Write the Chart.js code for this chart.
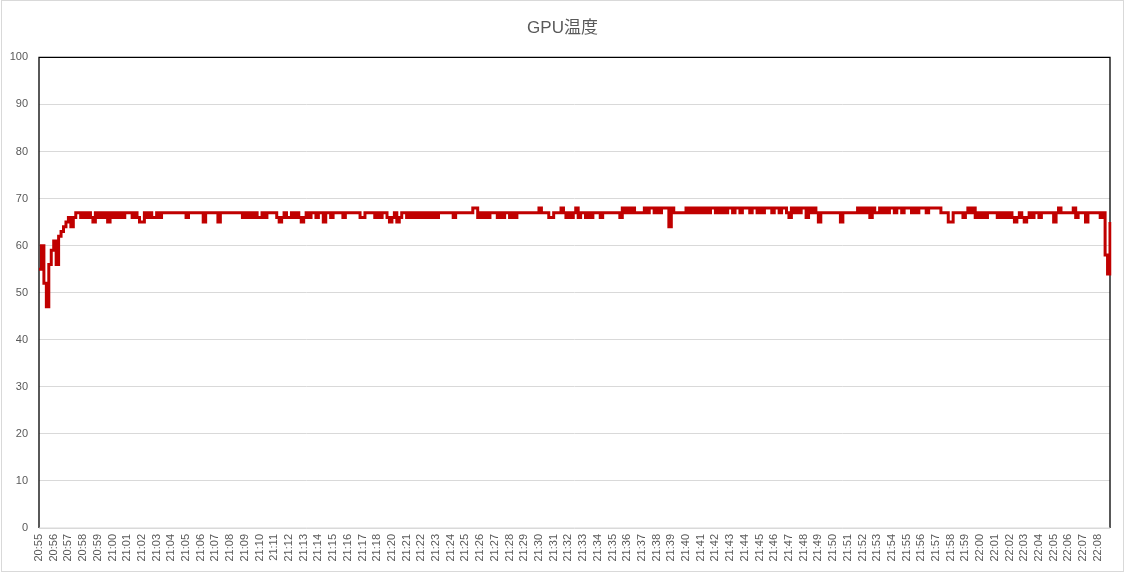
<!DOCTYPE html>
<html>
<head>
<meta charset="utf-8">
<script src="https://cdn.jsdelivr.net/npm/chart.js@4"></script>
<style>
  html, body { margin: 0; padding: 0; background: #fff; }
  #frame { position: absolute; left: 1px; top: 0px; width: 1121px; height: 570px; border: 1px solid #d9d9d9; background: #fff; }
  canvas { display: block; }
</style>
</head>
<body>
<div id="frame"><canvas id="c"></canvas></div>
<script>
// Minute tick labels (21:19 is absent in the source chart)
const timeLabels = [
  '20:55','20:56','20:57','20:58','20:59','21:00','21:01','21:02','21:03','21:04',
  '21:05','21:06','21:07','21:08','21:09','21:10','21:11','21:12','21:13','21:14',
  '21:15','21:16','21:17','21:18','21:20','21:21','21:22','21:23','21:24','21:25',
  '21:26','21:27','21:28','21:29','21:30','21:31','21:32','21:33','21:34','21:35',
  '21:36','21:37','21:38','21:39','21:40','21:41','21:42','21:43','21:44','21:45',
  '21:46','21:47','21:48','21:49','21:50','21:51','21:52','21:53','21:54','21:55',
  '21:56','21:57','21:58','21:59','22:00','22:01','22:02','22:03','22:04','22:05',
  '22:06','22:07','22:08'
];
const samplesPerLabel = 6;

// GPU temperature readings (6 samples per label interval)
const gpuTemp = [
  55,60,52,47,56,59,  61,56,62,63,64,65,  66,64,66,67,67,66,  67,66,67,66,65,67,
  66,67,66,67,65,67,  66,67,66,67,66,67,  67,67,66,67,66,65,  65,67,66,67,66,66,
  67,66,67,67,67,67,  67,67,67,67,67,67,  66,67,67,67,67,67,  67,65,67,67,67,67,
  67,65,67,67,67,67,  67,67,67,67,67,66,  67,66,67,66,67,66,  66,67,66,67,67,67,
  67,66,65,66,67,66,  66,67,66,67,66,65,  66,67,66,67,67,66,  67,67,65,67,67,66,
  67,67,67,67,66,67,  67,67,67,67,67,66,  66,67,67,67,67,66,  67,66,67,67,66,65,
  66,67,65,66,67,67,  66,67,66,67,66,67,  66,67,66,67,66,67,  66,67,67,67,67,67,
  67,66,67,67,67,67,  67,67,67,68,68,66,  67,66,67,66,67,67,  67,66,67,66,67,67,
  66,67,66,67,67,67,  67,67,67,67,67,67,  68,67,67,67,66,66,  67,67,67,68,67,66,
  67,66,67,68,66,67,  67,66,67,66,67,67,  67,66,67,67,67,67,  67,67,67,66,68,67,
  68,67,68,67,67,67,  67,68,67,68,68,67,  68,67,68,68,68,64,  68,67,67,67,67,67,
  68,67,68,67,68,67,  68,67,68,67,68,68,  67,68,67,68,67,68,  68,67,68,68,67,68,
  68,68,67,68,68,67,  68,67,68,68,68,67,  68,68,67,68,68,67,  66,68,67,68,67,68,
  68,66,68,67,68,67,  65,67,67,67,67,67,  67,67,67,65,67,67,  67,67,67,67,68,67,
  68,67,68,66,68,67,  67,68,67,68,67,68,  68,67,68,68,67,68,  68,68,67,68,67,68,
  68,68,67,68,68,68,  68,68,67,67,67,65,  65,67,67,67,67,66,  67,68,67,68,66,67,
  66,67,66,67,67,67,  67,66,67,66,67,66,  67,66,65,66,67,66,  65,66,67,66,67,67,
  66,67,67,67,67,67,  65,67,68,67,67,67,  67,67,68,66,67,67,  67,65,67,67,67,67,
  67,66,67,58,54,65
];

const yTicks = [0,10,20,30,40,50,60,70,80,90,100];

const labels = [];
timeLabels.forEach(t => { for (let j = 0; j < samplesPerLabel; j++) labels.push(j === 0 ? t : ''); });

const framePlugin = {
  id: 'plotFrame',
  beforeDatasetsDraw(chart) {
    const { ctx, chartArea: a } = chart;
    ctx.save();
    ctx.strokeStyle = '#000';
    ctx.lineWidth = 1.3;
    ctx.beginPath();
    ctx.moveTo(a.left, a.bottom);
    ctx.lineTo(a.left, a.top);
    ctx.lineTo(a.right, a.top);
    ctx.lineTo(a.right, a.bottom);
    ctx.stroke();
    ctx.strokeStyle = '#d9d9d9';
    ctx.lineWidth = 1;
    ctx.beginPath();
    ctx.moveTo(a.left, a.bottom);
    ctx.lineTo(a.right, a.bottom);
    ctx.stroke();
    ctx.restore();
  }
};

const fontFam = '"Liberation Sans", Arial, "Noto Sans CJK JP", sans-serif';

new Chart(document.getElementById('c'), {
  type: 'line',
  data: {
    labels: labels,
    datasets: [{
      label: 'GPU温度',
      data: gpuTemp,
      borderColor: '#C00000',
      backgroundColor: '#C00000',
      borderWidth: 3,
      pointRadius: 0,
      stepped: true,
      fill: false,
      borderJoinStyle: 'miter'
    }]
  },
  options: {
    responsive: true,
    maintainAspectRatio: false,
    animation: false,
    layout: { padding: { left: 0, right: 0, top: 0, bottom: 0 } },
    plugins: {
      legend: { display: false },
      tooltip: { enabled: false },
      title: {
        display: true,
        text: 'GPU温度',
        color: '#595959',
        font: { family: fontFam, size: 17, weight: 'normal' },
        padding: { top: 17, bottom: 19 }
      }
    },
    scales: {
      x: {
        type: 'category',
        offset: false,
        grid: { display: false, drawTicks: false },
        border: { display: false },
        afterFit(s) { s.height = 43; s.paddingLeft = 0; s.paddingRight = 13; },
        ticks: {
          autoSkip: false,
          maxRotation: 90,
          minRotation: 90,
          padding: 6,
          color: '#595959',
          font: { family: fontFam, size: 11 },
          callback(v, i) { return labels[i]; }
        }
      },
      y: {
        min: 0,
        max: 100,
        afterFit(s) { s.width = 37; },
        afterBuildTicks(s) { s.ticks = yTicks.map(v => ({ value: v })); },
        grid: { color: '#d9d9d9', lineWidth: 1, drawTicks: false },
        border: { display: false },
        ticks: {
          padding: 11,
          color: '#595959',
          font: { family: fontFam, size: 11 }
        }
      }
    }
  },
  plugins: [framePlugin]
});
</script>
</body>
</html>
